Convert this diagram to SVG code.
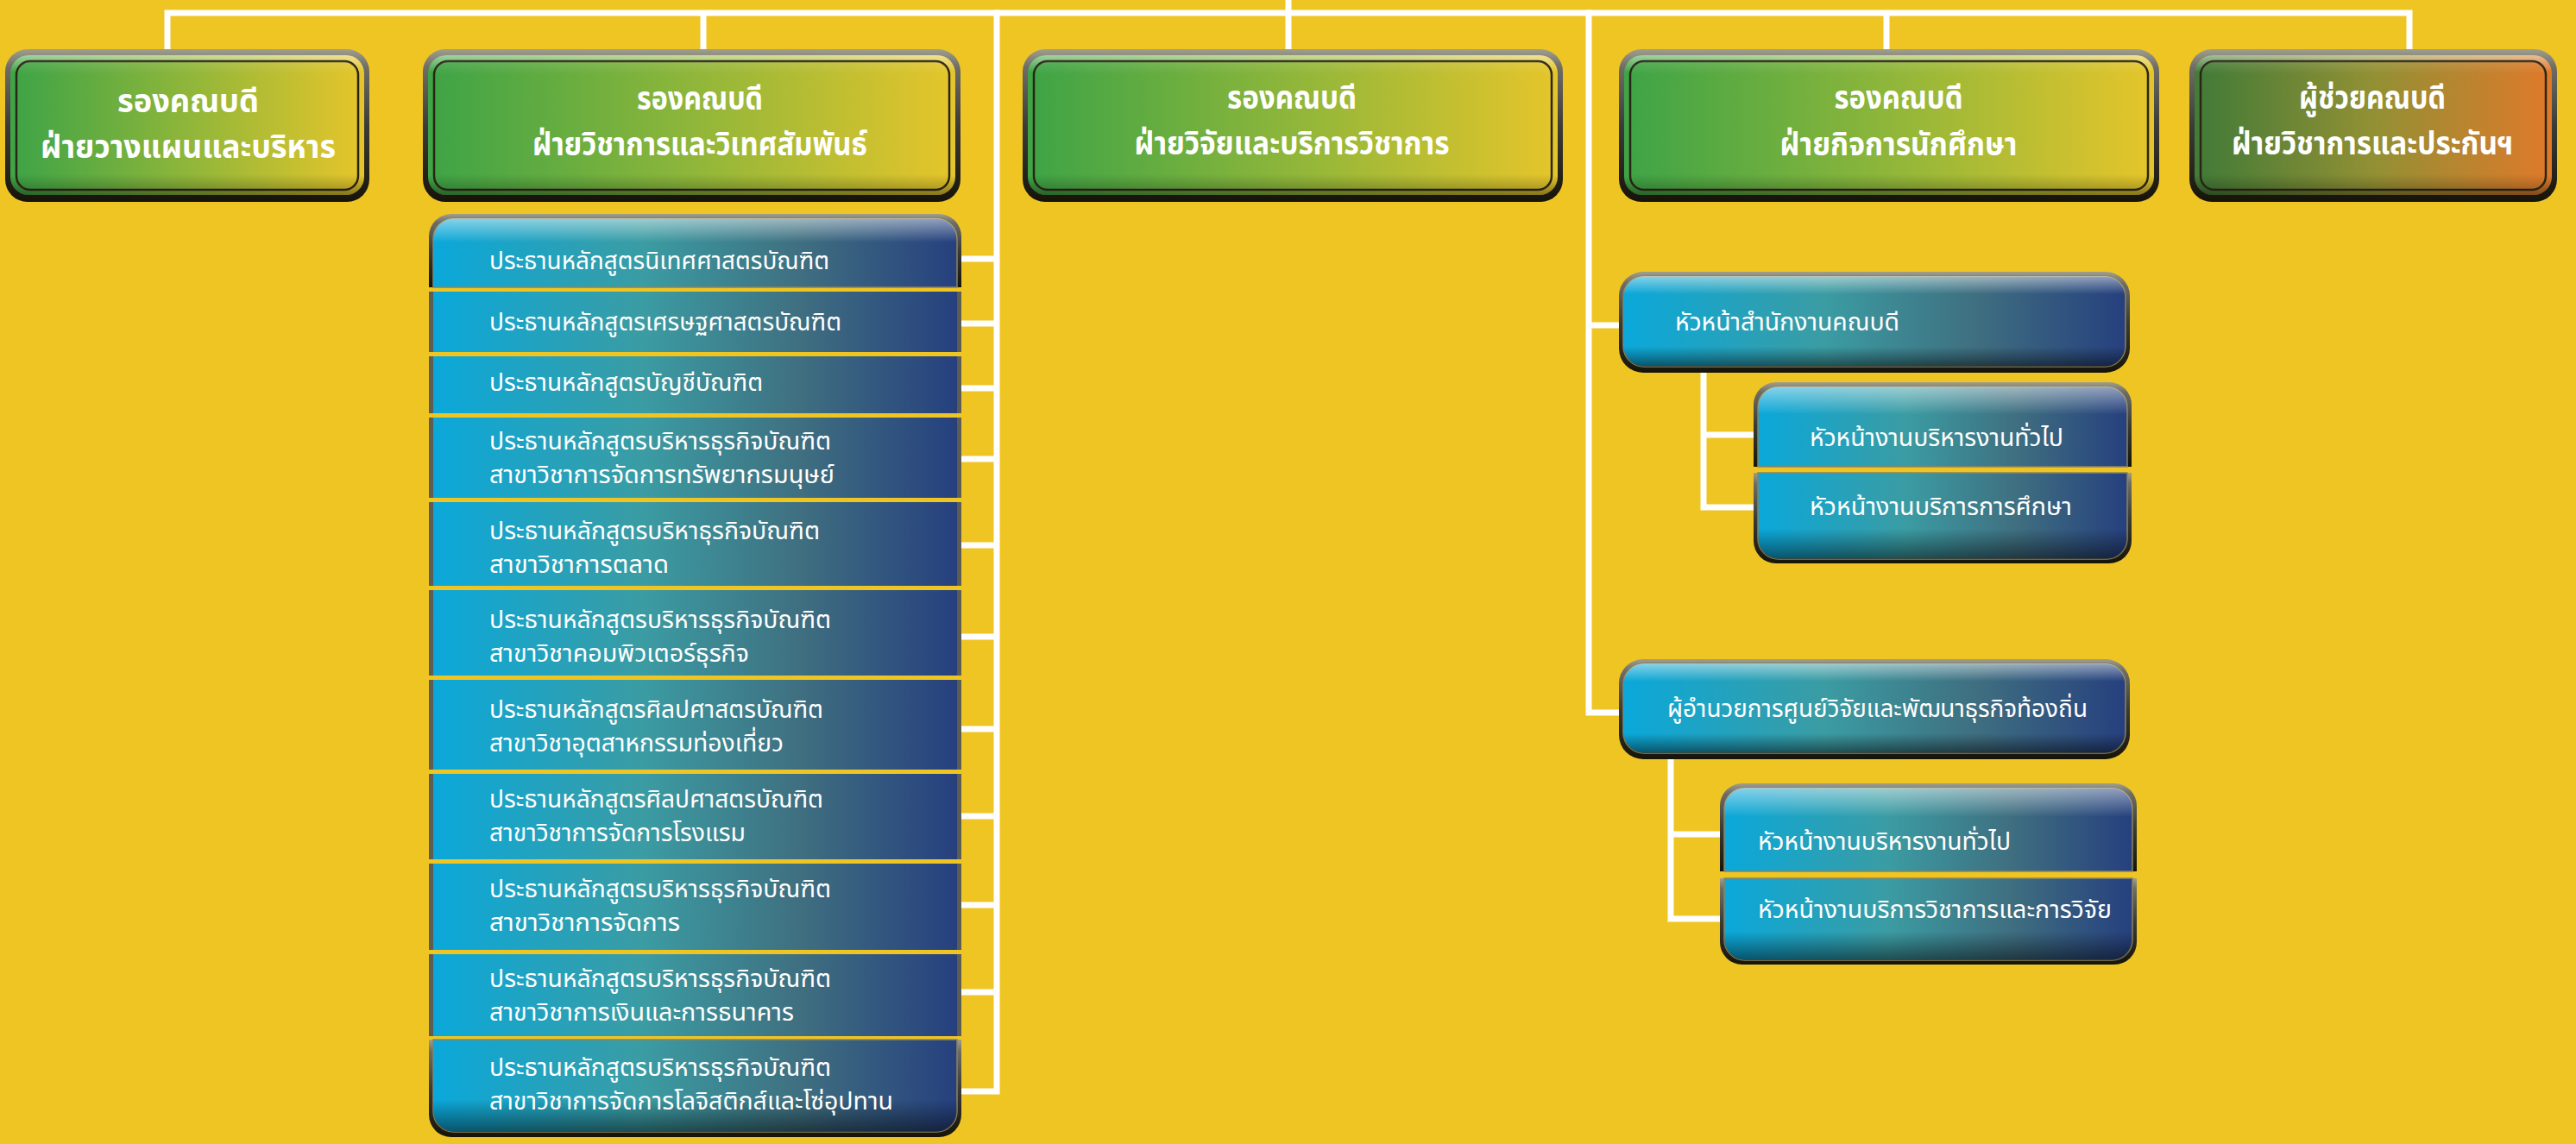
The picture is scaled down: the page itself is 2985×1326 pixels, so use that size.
<svg xmlns="http://www.w3.org/2000/svg" width="2985" height="1326" viewBox="0 0 2985 1326">
<style>
.t{font-family:"Noto Sans Thai","Noto Sans Thai UI","Noto Sans","DejaVu Sans",sans-serif;fill:#ffffff}
.h{font-size:38px;font-weight:700;text-anchor:middle}
.s{font-size:29px}
.m{font-size:28px}
.c{stroke:#ffffff;stroke-width:7;fill:none;stroke-linecap:square;stroke-linejoin:miter}
.side{fill:#5e5d53}
</style>
<defs>
<linearGradient id="gG" x1="0" y1="0" x2="1" y2="0">
<stop offset="0" stop-color="#3fa446"/><stop offset="0.5" stop-color="#8fb63a"/><stop offset="1" stop-color="#e4c52b"/>
</linearGradient>
<linearGradient id="gO" x1="0" y1="0" x2="1" y2="0">
<stop offset="0" stop-color="#437b37"/><stop offset="0.5" stop-color="#929034"/><stop offset="1" stop-color="#dd7a2a"/>
</linearGradient>
<linearGradient id="gB" x1="0" y1="0" x2="1" y2="0">
<stop offset="0" stop-color="#0aa8da"/><stop offset="0.4" stop-color="#3b9ca3"/><stop offset="0.7" stop-color="#3f6f80"/><stop offset="1" stop-color="#26407e"/>
</linearGradient>
<linearGradient id="frame" x1="0" y1="0" x2="0" y2="1">
<stop offset="0" stop-color="#a09e8c"/><stop offset="0.12" stop-color="#6e6c64"/><stop offset="0.5" stop-color="#3c3b37"/><stop offset="0.9" stop-color="#1f1c12"/><stop offset="1" stop-color="#16140a"/>
</linearGradient>
<linearGradient id="ring" x1="0" y1="0" x2="0" y2="1">
<stop offset="0" stop-color="#ffffff" stop-opacity="0.5"/><stop offset="0.12" stop-color="#ffffff" stop-opacity="0"/><stop offset="0.86" stop-color="#000000" stop-opacity="0"/><stop offset="1" stop-color="#000000" stop-opacity="0.4"/>
</linearGradient>
<linearGradient id="inShade" x1="0" y1="0" x2="0" y2="1">
<stop offset="0" stop-color="#ffffff" stop-opacity="0.12"/><stop offset="0.1" stop-color="#ffffff" stop-opacity="0"/><stop offset="0.88" stop-color="#000000" stop-opacity="0"/><stop offset="1" stop-color="#000000" stop-opacity="0.22"/>
</linearGradient>
<linearGradient id="gloss" x1="0" y1="0" x2="0" y2="1">
<stop offset="0" stop-color="#ffffff" stop-opacity="0.5"/><stop offset="0.2" stop-color="#ffffff" stop-opacity="0"/><stop offset="0.78" stop-color="#000000" stop-opacity="0"/><stop offset="1" stop-color="#000000" stop-opacity="0.5"/>
</linearGradient>
<linearGradient id="glossTop" x1="0" y1="0" x2="0" y2="1">
<stop offset="0" stop-color="#ffffff" stop-opacity="0.5"/><stop offset="0.35" stop-color="#ffffff" stop-opacity="0"/>
</linearGradient>
<linearGradient id="shadeBot" x1="0" y1="0" x2="0" y2="1">
<stop offset="0.65" stop-color="#000000" stop-opacity="0"/><stop offset="1" stop-color="#000000" stop-opacity="0.5"/>
</linearGradient>
</defs>

<rect x="0" y="0" width="2985" height="1326" fill="#EFC523"/>

<g id="connectors">
<path class="c" d="M1493,0 V15 M194,15 H2792 M194,15 V60 M815,15 V60 M1493,15 V60 M2186,15 V60 M2792,15 V60"/>
<path class="c" d="M1155,15 V1265 M1110,300 H1155 M1110,375 H1155 M1110,450 H1155 M1110,532 H1155 M1110,632 H1155 M1110,738 H1155 M1110,845 H1155 M1110,946 H1155 M1110,1049 H1155 M1110,1150 H1155 M1110,1265 H1155"/>
<path class="c" d="M1841,15 V826 H1880 M1841,377 H1880"/>
<path class="c" d="M1974,428 V588 H2036 M1974,504 H2036"/>
<path class="c" d="M1936,876 V1065 H1997 M1936,967 H1997"/>
</g>

<g id="n1">
<rect x="6" y="57" width="422" height="177" rx="26" fill="url(#frame)"/>
<rect x="12" y="64" width="410" height="162" rx="21" fill="url(#gG)"/>
<rect x="12" y="64" width="410" height="162" rx="21" fill="url(#ring)"/>
<rect x="19" y="71" width="396" height="149" rx="16" fill="url(#gG)" stroke="#2a2616" stroke-width="2.5"/>
<rect x="19" y="71" width="396" height="149" rx="16" fill="url(#inShade)"/>
<text class="t h"><tspan x="218" y="130" textLength="164" lengthAdjust="spacingAndGlyphs">รองคณบดี</tspan><tspan x="218" y="183" textLength="342" lengthAdjust="spacingAndGlyphs">ฝ่ายวางแผนและบริหาร</tspan></text>
</g>

<g id="n2">
<rect x="490" y="57" width="623" height="177" rx="26" fill="url(#frame)"/>
<rect x="496" y="64" width="611" height="162" rx="21" fill="url(#gG)"/>
<rect x="496" y="64" width="611" height="162" rx="21" fill="url(#ring)"/>
<rect x="503" y="71" width="597" height="149" rx="16" fill="url(#gG)" stroke="#2a2616" stroke-width="2.5"/>
<rect x="503" y="71" width="597" height="149" rx="16" fill="url(#inShade)"/>
<text class="t h"><tspan x="811" y="127" textLength="146" lengthAdjust="spacingAndGlyphs">รองคณบดี</tspan><tspan x="811" y="180" textLength="388" lengthAdjust="spacingAndGlyphs">ฝ่ายวิชาการและวิเทศสัมพันธ์</tspan></text>
</g>

<g id="n3">
<rect x="1185" y="57" width="626" height="177" rx="26" fill="url(#frame)"/>
<rect x="1191" y="64" width="614" height="162" rx="21" fill="url(#gG)"/>
<rect x="1191" y="64" width="614" height="162" rx="21" fill="url(#ring)"/>
<rect x="1198" y="71" width="600" height="149" rx="16" fill="url(#gG)" stroke="#2a2616" stroke-width="2.5"/>
<rect x="1198" y="71" width="600" height="149" rx="16" fill="url(#inShade)"/>
<text class="t h"><tspan x="1497" y="126" textLength="150" lengthAdjust="spacingAndGlyphs">รองคณบดี</tspan><tspan x="1497" y="179" textLength="365" lengthAdjust="spacingAndGlyphs">ฝ่ายวิจัยและบริการวิชาการ</tspan></text>
</g>

<g id="n4">
<rect x="1876" y="57" width="626" height="177" rx="26" fill="url(#frame)"/>
<rect x="1882" y="64" width="614" height="162" rx="21" fill="url(#gG)"/>
<rect x="1882" y="64" width="614" height="162" rx="21" fill="url(#ring)"/>
<rect x="1889" y="71" width="600" height="149" rx="16" fill="url(#gG)" stroke="#2a2616" stroke-width="2.5"/>
<rect x="1889" y="71" width="600" height="149" rx="16" fill="url(#inShade)"/>
<text class="t h"><tspan x="2200" y="126" textLength="149" lengthAdjust="spacingAndGlyphs">รองคณบดี</tspan><tspan x="2200" y="180" textLength="275" lengthAdjust="spacingAndGlyphs">ฝ่ายกิจการนักศึกษา</tspan></text>
</g>

<g id="n5">
<rect x="2537" y="57" width="426" height="177" rx="26" fill="url(#frame)"/>
<rect x="2543" y="64" width="414" height="162" rx="21" fill="url(#gO)"/>
<rect x="2543" y="64" width="414" height="162" rx="21" fill="url(#ring)"/>
<rect x="2550" y="71" width="400" height="149" rx="16" fill="url(#gO)" stroke="#2a2616" stroke-width="2.5"/>
<rect x="2550" y="71" width="400" height="149" rx="16" fill="url(#inShade)"/>
<text class="t h"><tspan x="2749" y="126" textLength="170" lengthAdjust="spacingAndGlyphs">ผู้ช่วยคณบดี</tspan><tspan x="2749" y="179" textLength="326" lengthAdjust="spacingAndGlyphs">ฝ่ายวิชาการและประกันฯ</tspan></text>
</g>

<g id="list">
<g id="r1">
<path d="M497,333 V274 A26,26 0 0 1 523,248 H1088 A26,26 0 0 1 1114,274 V333 Z" fill="url(#frame)"/>
<path d="M502,333 V278 A24,24 0 0 1 526,253 H1085 A24,24 0 0 1 1109,278 V333 Z" fill="url(#gB)" stroke="#8a8460" stroke-width="1.5"/>
<path d="M502,333 V278 A24,24 0 0 1 526,253 H1085 A24,24 0 0 1 1109,278 V333 Z" fill="url(#glossTop)"/>
<text class="t s" x="567" y="312" textLength="394" lengthAdjust="spacingAndGlyphs">ประธานหลักสูตรนิเทศศาสตรบัณฑิต</text>
</g>
<g id="r2">
<rect class="side" x="497" y="338" width="617" height="70"/>
<rect x="502" y="338" width="607" height="70" fill="url(#gB)"/>
<text class="t s" x="567" y="383" textLength="408" lengthAdjust="spacingAndGlyphs">ประธานหลักสูตรเศรษฐศาสตรบัณฑิต</text>
</g>
<g id="r3">
<rect class="side" x="497" y="413" width="617" height="66"/>
<rect x="502" y="413" width="607" height="66" fill="url(#gB)"/>
<text class="t s" x="567" y="453" textLength="317" lengthAdjust="spacingAndGlyphs">ประธานหลักสูตรบัญชีบัณฑิต</text>
</g>
<g id="r4">
<rect class="side" x="497" y="484" width="617" height="93"/>
<rect x="502" y="484" width="607" height="93" fill="url(#gB)"/>
<text class="t m"><tspan x="567" y="521" textLength="396" lengthAdjust="spacingAndGlyphs">ประธานหลักสูตรบริหารธุรกิจบัณฑิต</tspan><tspan x="567" y="560" textLength="400" lengthAdjust="spacingAndGlyphs">สาขาวิชาการจัดการทรัพยากรมนุษย์</tspan></text>
</g>
<g id="r5">
<rect class="side" x="497" y="582" width="617" height="97"/>
<rect x="502" y="582" width="607" height="97" fill="url(#gB)"/>
<text class="t m"><tspan x="567" y="625" textLength="383" lengthAdjust="spacingAndGlyphs">ประธานหลักสูตรบริหาธุรกิจบัณฑิต</tspan><tspan x="567" y="664" textLength="208" lengthAdjust="spacingAndGlyphs">สาขาวิชาการตลาด</tspan></text>
</g>
<g id="r6">
<rect class="side" x="497" y="684" width="617" height="99"/>
<rect x="502" y="684" width="607" height="99" fill="url(#gB)"/>
<text class="t m"><tspan x="567" y="728" textLength="396" lengthAdjust="spacingAndGlyphs">ประธานหลักสูตรบริหารธุรกิจบัณฑิต</tspan><tspan x="567" y="767" textLength="301" lengthAdjust="spacingAndGlyphs">สาขาวิชาคอมพิวเตอร์ธุรกิจ</tspan></text>
</g>
<g id="r7">
<rect class="side" x="497" y="788" width="617" height="104"/>
<rect x="502" y="788" width="607" height="104" fill="url(#gB)"/>
<text class="t m"><tspan x="567" y="832" textLength="387" lengthAdjust="spacingAndGlyphs">ประธานหลักสูตรศิลปศาสตรบัณฑิต</tspan><tspan x="567" y="871" textLength="341" lengthAdjust="spacingAndGlyphs">สาขาวิชาอุตสาหกรรมท่องเที่ยว</tspan></text>
</g>
<g id="r8">
<rect class="side" x="497" y="897" width="617" height="99"/>
<rect x="502" y="897" width="607" height="99" fill="url(#gB)"/>
<text class="t m"><tspan x="567" y="936" textLength="387" lengthAdjust="spacingAndGlyphs">ประธานหลักสูตรศิลปศาสตรบัณฑิต</tspan><tspan x="567" y="975" textLength="297" lengthAdjust="spacingAndGlyphs">สาขาวิชาการจัดการโรงแรม</tspan></text>
</g>
<g id="r9">
<rect class="side" x="497" y="1001" width="617" height="100"/>
<rect x="502" y="1001" width="607" height="100" fill="url(#gB)"/>
<text class="t m"><tspan x="567" y="1040" textLength="396" lengthAdjust="spacingAndGlyphs">ประธานหลักสูตรบริหารธุรกิจบัณฑิต</tspan><tspan x="567" y="1079" textLength="221" lengthAdjust="spacingAndGlyphs">สาขาวิชาการจัดการ</tspan></text>
</g>
<g id="r10">
<rect class="side" x="497" y="1106" width="617" height="95"/>
<rect x="502" y="1106" width="607" height="95" fill="url(#gB)"/>
<text class="t m"><tspan x="567" y="1144" textLength="396" lengthAdjust="spacingAndGlyphs">ประธานหลักสูตรบริหารธุรกิจบัณฑิต</tspan><tspan x="567" y="1183" textLength="353" lengthAdjust="spacingAndGlyphs">สาขาวิชาการเงินและการธนาคาร</tspan></text>
</g>
<g id="r11">
<path d="M497,1205 V1292 A26,26 0 0 0 523,1318 H1088 A26,26 0 0 0 1114,1292 V1205 Z" fill="url(#frame)"/>
<path d="M502,1205 V1288 A24,24 0 0 0 526,1312 H1085 A24,24 0 0 0 1109,1288 V1205 Z" fill="url(#gB)" stroke="#8a8460" stroke-width="1.5"/>
<path d="M502,1205 V1288 A24,24 0 0 0 526,1312 H1085 A24,24 0 0 0 1109,1288 V1205 Z" fill="url(#shadeBot)"/>
<text class="t m"><tspan x="567" y="1247" textLength="396" lengthAdjust="spacingAndGlyphs">ประธานหลักสูตรบริหารธุรกิจบัณฑิต</tspan><tspan x="567" y="1286" textLength="468" lengthAdjust="spacingAndGlyphs">สาขาวิชาการจัดการโลจิสติกส์และโซ่อุปทาน</tspan></text>
</g>
</g>

<g id="nA">
<rect x="1876" y="315" width="592" height="117" rx="28" fill="url(#frame)"/>
<rect x="1881" y="320" width="582" height="105" rx="24" fill="url(#gB)" stroke="#8a8460" stroke-width="1.5"/>
<rect x="1881" y="320" width="582" height="105" rx="24" fill="url(#gloss)"/>
<text class="t s" x="1941" y="383" textLength="260" lengthAdjust="spacingAndGlyphs">หัวหน้าสำนักงานคณบดี</text>
</g>

<g id="nB1">
<path d="M2032,541 V469 A26,26 0 0 1 2058,443 H2444 A26,26 0 0 1 2470,469 V541 Z" fill="url(#frame)"/>
<path d="M2037,541 V472 A24,24 0 0 1 2061,448 H2441 A24,24 0 0 1 2465,472 V541 Z" fill="url(#gB)" stroke="#8a8460" stroke-width="1.5"/>
<path d="M2037,541 V472 A24,24 0 0 1 2061,448 H2441 A24,24 0 0 1 2465,472 V541 Z" fill="url(#glossTop)"/>
<text class="t s" x="2097" y="517" textLength="294" lengthAdjust="spacingAndGlyphs">หัวหน้างานบริหารงานทั่วไป</text>
</g>
<g id="nB2">
<path d="M2032,548 V627 A26,26 0 0 0 2058,653 H2444 A26,26 0 0 0 2470,627 V548 Z" fill="url(#frame)"/>
<path d="M2037,548 V624 A24,24 0 0 0 2061,648 H2441 A24,24 0 0 0 2465,624 V548 Z" fill="url(#gB)" stroke="#8a8460" stroke-width="1.5"/>
<path d="M2037,548 V624 A24,24 0 0 0 2061,648 H2441 A24,24 0 0 0 2465,624 V548 Z" fill="url(#shadeBot)"/>
<text class="t s" x="2097" y="597" textLength="304" lengthAdjust="spacingAndGlyphs">หัวหน้างานบริการการศึกษา</text>
</g>

<g id="nC">
<rect x="1876" y="764" width="592" height="116" rx="28" fill="url(#frame)"/>
<rect x="1881" y="769" width="582" height="104" rx="24" fill="url(#gB)" stroke="#8a8460" stroke-width="1.5"/>
<rect x="1881" y="769" width="582" height="104" rx="24" fill="url(#gloss)"/>
<text class="t s" x="1932" y="831" textLength="487" lengthAdjust="spacingAndGlyphs">ผู้อำนวยการศูนย์วิจัยและพัฒนาธุรกิจท้องถิ่น</text>
</g>

<g id="nD1">
<path d="M1993,1010 V934 A26,26 0 0 1 2019,908 H2450 A26,26 0 0 1 2476,934 V1010 Z" fill="url(#frame)"/>
<path d="M1998,1010 V937 A24,24 0 0 1 2022,913 H2447 A24,24 0 0 1 2471,937 V1010 Z" fill="url(#gB)" stroke="#8a8460" stroke-width="1.5"/>
<path d="M1998,1010 V937 A24,24 0 0 1 2022,913 H2447 A24,24 0 0 1 2471,937 V1010 Z" fill="url(#glossTop)"/>
<text class="t s" x="2037" y="985" textLength="293" lengthAdjust="spacingAndGlyphs">หัวหน้างานบริหารงานทั่วไป</text>
</g>
<g id="nD2">
<path d="M1993,1018 V1092 A26,26 0 0 0 2019,1118 H2450 A26,26 0 0 0 2476,1092 V1018 Z" fill="url(#frame)"/>
<path d="M1998,1018 V1089 A24,24 0 0 0 2022,1113 H2447 A24,24 0 0 0 2471,1089 V1018 Z" fill="url(#gB)" stroke="#8a8460" stroke-width="1.5"/>
<path d="M1998,1018 V1089 A24,24 0 0 0 2022,1113 H2447 A24,24 0 0 0 2471,1089 V1018 Z" fill="url(#shadeBot)"/>
<text class="t s" x="2037" y="1064" textLength="410" lengthAdjust="spacingAndGlyphs">หัวหน้างานบริการวิชาการและการวิจัย</text>
</g>
</svg>
